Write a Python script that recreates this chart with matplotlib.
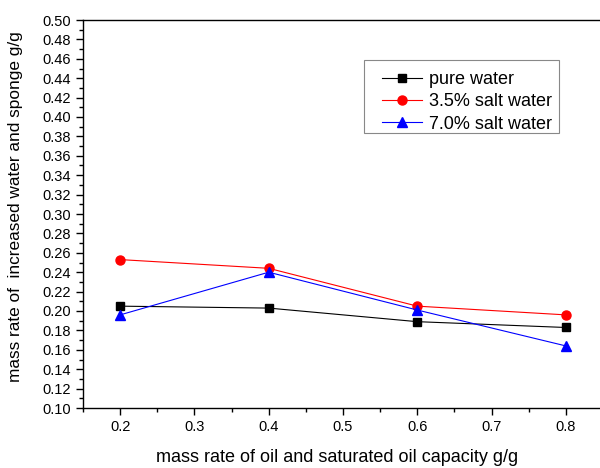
import numpy as np
import matplotlib.pyplot as plt
from matplotlib.patches import Rectangle
from matplotlib.ticker import MultipleLocator

plt.rcParams['font.family'] = ['Liberation Sans', 'DejaVu Sans']

# data
oil_rate = [0.2, 0.4, 0.6, 0.8]
pure_water = [0.205, 0.203, 0.189, 0.183]
salt_35 = [0.253, 0.244, 0.205, 0.196]
salt_70 = [0.196, 0.240, 0.201, 0.164]
labels = ['pure water', '3.5% salt water', '7.0% salt water']

fig = plt.figure(figsize=(6, 4.68), dpi=100)
ax = fig.add_axes([83/600, 60/468, 520/600, 388/468])

ax.plot(oil_rate, pure_water, color='black', lw=0.8, marker='s', ms=5.5, label=labels[0])
ax.plot(oil_rate, salt_35, color='red', lw=0.8, marker='o', ms=6.5, label=labels[1])
ax.plot(oil_rate, salt_70, color='blue', lw=0.8, marker='^', ms=7, label=labels[2])

ax.set_xlim(0.15, 0.85)
ax.set_ylim(0.10, 0.50)
ax.xaxis.set_major_locator(MultipleLocator(0.1))
ax.xaxis.set_minor_locator(MultipleLocator(0.05))
ax.yaxis.set_major_locator(MultipleLocator(0.02))
ax.yaxis.set_minor_locator(MultipleLocator(0.01))
ax.xaxis.set_major_formatter(plt.FormatStrFormatter('%.1f'))
ax.yaxis.set_major_formatter(plt.FormatStrFormatter('%.2f'))

ax.tick_params(which='both', direction='out', top=False, right=False, labelsize=10.5)
ax.tick_params(which='major', length=5, width=1)
ax.tick_params(which='minor', length=3, width=1)
for s in ax.spines.values():
    s.set_linewidth(1)

ax.set_xlabel('mass rate of oil and saturated oil capacity g/g', fontsize=13)
ax.xaxis.set_label_coords(0.488, -0.106)
ax.set_ylabel('mass rate of  increased water and sponge g/g', fontsize=12.4)
ax.yaxis.set_label_coords(-0.115, 0.518)

# legend without its own frame, box drawn separately (wider left margin like the original)
leg = ax.legend(loc='upper left', bbox_to_anchor=(0.575, 0.869), fontsize=13,
                frameon=False, handlelength=2.2, borderpad=0, labelspacing=0.3,
                handletextpad=0.4, borderaxespad=0)
ax.add_patch(Rectangle((0.540, 0.709), 0.375, 0.188, transform=ax.transAxes,
                       fill=False, edgecolor='#888888', lw=0.8, zorder=5))

fig.savefig('out.png', dpi=100)
